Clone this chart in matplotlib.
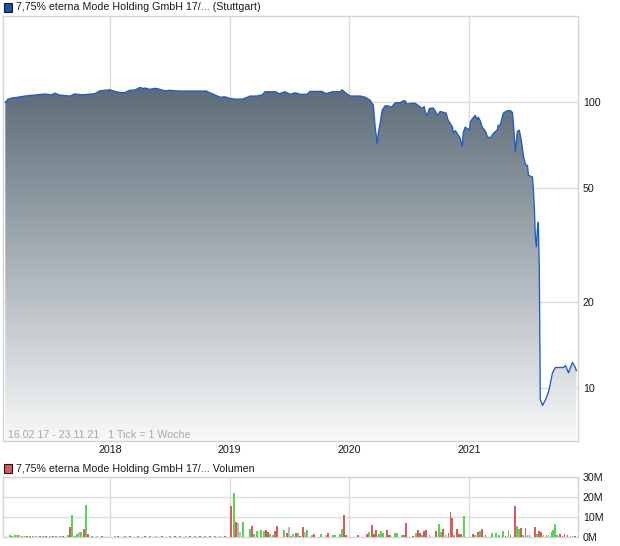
import matplotlib
matplotlib.use("Agg")
import matplotlib.pyplot as plt
import matplotlib.dates as mdates
from matplotlib.patches import Rectangle
from matplotlib.ticker import NullLocator, FixedLocator
import numpy as np
import pandas as pd

plt.rcParams['font.family'] = ['Liberation Sans', 'DejaVu Sans']

# ---------------- data ----------------
price_dates = [
    "2017-02-16", "2017-02-24", "2017-03-08", "2017-03-26", "2017-04-17", "2017-05-17",
    "2017-06-17", "2017-07-08", "2017-07-17", "2017-08-01", "2017-09-01", "2017-09-16",
    "2017-10-08", "2017-11-16", "2017-12-01", "2018-01-01", "2018-01-16", "2018-02-01",
    "2018-02-16", "2018-03-03", "2018-03-18", "2018-04-03", "2018-04-12", "2018-04-18",
    "2018-05-03", "2018-05-18", "2018-05-27", "2018-06-18", "2018-07-03", "2018-07-18",
    "2018-08-03", "2018-10-03", "2018-10-21", "2018-11-02", "2018-11-17", "2018-12-03",
    "2018-12-18", "2019-01-02", "2019-01-17", "2019-02-08", "2019-02-20", "2019-03-04",
    "2019-03-26", "2019-04-10", "2019-04-19", "2019-05-20", "2019-06-01", "2019-06-19",
    "2019-07-04", "2019-07-20", "2019-08-04", "2019-08-25", "2019-09-03", "2019-10-10",
    "2019-10-22", "2019-11-10", "2019-12-04", "2019-12-10", "2019-12-19", "2020-01-03",
    "2020-02-03", "2020-02-18", "2020-03-04", "2020-03-14", "2020-03-20", "2020-03-26",
    "2020-03-29", "2020-04-04", "2020-04-10", "2020-04-19", "2020-04-28", "2020-05-08",
    "2020-05-20", "2020-06-04", "2020-06-13", "2020-06-19", "2020-06-25", "2020-07-05",
    "2020-07-20", "2020-07-29", "2020-08-10", "2020-08-16", "2020-08-19", "2020-08-25",
    "2020-09-01", "2020-09-13", "2020-09-19", "2020-09-25", "2020-10-04", "2020-10-22",
    "2020-10-28", "2020-11-10", "2020-11-13", "2020-11-19", "2020-11-28", "2020-12-04",
    "2020-12-10", "2020-12-13", "2020-12-19", "2021-01-01", "2021-01-04", "2021-01-13",
    "2021-01-19", "2021-01-25", "2021-01-28", "2021-02-03", "2021-02-09", "2021-02-19",
    "2021-02-25", "2021-03-06", "2021-03-15", "2021-03-27", "2021-03-30", "2021-04-05",
    "2021-04-14", "2021-04-27", "2021-05-06", "2021-05-12", "2021-05-15", "2021-05-21",
    "2021-05-27", "2021-06-02", "2021-06-08", "2021-06-15", "2021-06-21", "2021-06-27",
    "2021-06-30", "2021-07-12", "2021-07-15", "2021-07-18", "2021-07-21", "2021-07-24",
    "2021-07-27", "2021-07-30", "2021-08-02", "2021-08-05", "2021-08-12", "2021-08-21",
    "2021-08-30", "2021-09-05", "2021-09-11", "2021-09-20", "2021-10-15", "2021-10-21",
    "2021-10-30", "2021-11-11", "2021-11-20", "2021-11-23",
]
price_values = [
    99.8, 102.4, 103.3, 104.0, 105.0, 105.8,
    106.7, 106.0, 107.5, 105.8, 105.0, 106.8,
    106.0, 107.0, 109.5, 110.4, 109.0, 108.0,
    108.0, 110.0, 110.2, 112.6, 111.5, 112.0,
    110.8, 111.7, 111.3, 109.5, 110.0, 109.5,
    109.3, 109.3, 109.3, 107.8, 106.0, 104.0,
    104.3, 103.0, 102.4, 102.4, 103.5, 105.0,
    105.0, 106.0, 108.7, 108.7, 107.0, 108.7,
    106.5, 107.8, 106.5, 106.5, 109.0, 109.0,
    107.0, 108.7, 108.7, 110.4, 108.0, 105.0,
    105.0, 104.0, 101.6, 97.6, 81.0, 71.3,
    78.0, 84.5, 93.8, 97.0, 97.0, 96.0,
    99.5, 99.5, 101.0, 101.0, 98.3, 99.0,
    99.0, 97.3, 95.0, 96.5, 92.5, 90.0,
    95.0, 95.3, 93.0, 90.0, 92.7, 91.5,
    86.5, 82.0, 78.0, 79.5, 76.7, 74.8,
    69.8, 78.0, 81.8, 79.8, 85.4, 88.4,
    89.8, 87.0, 88.5, 86.0, 81.8, 79.0,
    75.6, 75.0, 77.7, 80.0, 83.0, 83.0,
    91.5, 93.3, 93.3, 92.0, 84.5, 67.0,
    79.0, 79.8, 73.7, 64.4, 60.5, 60.0,
    55.5, 54.7, 49.3, 42.6, 33.8, 31.2,
    35.7, 38.0, 26.6, 9.1, 8.7, 9.1,
    9.7, 10.4, 11.3, 11.8, 11.8, 12.0,
    11.3, 12.3, 11.8, 11.5,
]

# volume in millions, direction: r = down, g = up, n = unchanged
vol_dates = [
    "2017-03-02", "2017-03-08", "2017-03-17", "2017-03-23", "2017-03-29", "2017-04-08",
    "2017-04-17", "2017-04-23", "2017-05-02", "2017-05-11", "2017-05-20", "2017-06-01",
    "2017-06-11", "2017-06-20", "2017-07-02", "2017-07-11", "2017-07-20", "2017-08-01",
    "2017-08-11", "2017-08-26", "2017-09-01", "2017-09-07", "2017-09-16", "2017-09-22",
    "2017-09-28", "2017-10-04", "2017-10-14", "2017-10-20", "2017-10-26", "2017-11-07",
    "2017-11-22", "2017-12-08", "2018-01-16", "2018-01-25", "2018-02-16", "2018-03-03",
    "2018-03-27", "2018-04-18", "2018-05-03", "2018-05-21", "2018-06-09", "2018-07-03",
    "2018-07-18", "2018-08-03", "2018-08-21", "2018-09-02", "2018-09-17", "2018-10-03",
    "2018-10-18", "2018-11-02", "2018-11-17", "2018-12-03", "2018-12-18",
    "2019-01-05", "2019-01-14", "2019-01-21", "2019-01-27", "2019-02-02", "2019-02-11",
    "2019-03-04", "2019-03-10", "2019-03-16", "2019-03-26", "2019-04-07", "2019-04-16",
    "2019-04-22", "2019-04-28", "2019-05-04", "2019-05-13", "2019-05-20", "2019-05-26",
    "2019-06-16", "2019-06-25", "2019-07-01", "2019-07-07", "2019-07-14", "2019-07-23",
    "2019-07-29", "2019-08-04", "2019-08-13", "2019-08-19", "2019-08-25", "2019-09-10",
    "2019-09-16", "2019-10-07", "2019-10-22", "2019-10-28", "2019-11-13", "2019-11-19",
    "2019-12-04", "2019-12-10", "2019-12-16", "2019-12-22",
    "2020-01-28", "2020-02-24", "2020-03-01", "2020-03-11", "2020-03-17", "2020-03-23",
    "2020-04-01", "2020-04-07", "2020-04-13", "2020-04-25", "2020-05-01", "2020-05-05",
    "2020-05-20", "2020-05-26", "2020-06-10", "2020-06-16", "2020-06-22", "2020-07-14",
    "2020-07-23", "2020-07-29", "2020-08-04", "2020-08-10", "2020-08-16", "2020-08-22",
    "2020-09-01", "2020-09-22", "2020-10-01", "2020-10-07", "2020-10-13", "2020-10-22",
    "2020-10-29", "2020-11-04", "2020-11-10", "2020-11-16", "2020-11-25", "2020-12-01",
    "2020-12-07", "2020-12-16",
    "2021-01-13", "2021-01-19", "2021-01-28", "2021-02-03", "2021-02-09", "2021-02-19",
    "2021-03-12", "2021-03-24", "2021-04-02", "2021-04-14", "2021-04-21", "2021-04-30",
    "2021-05-06", "2021-05-21", "2021-05-27", "2021-06-02", "2021-06-08", "2021-06-14",
    "2021-06-21", "2021-06-27", "2021-07-03", "2021-07-21", "2021-07-27", "2021-08-02",
    "2021-08-08", "2021-08-15", "2021-08-24", "2021-08-30", "2021-09-08", "2021-09-14",
    "2021-09-20", "2021-09-26", "2021-10-05", "2021-10-12", "2021-10-18", "2021-10-27",
    "2021-11-05", "2021-11-11", "2021-11-20",
]
vol_values = [
    0.8, 0.5, 0.8, 0.8, 0.8, 0.3,
    0.3, 0.3, 0.3, 0.3, 0.3, 0.3,
    0.3, 0.3, 0.3, 0.3, 0.3, 0.3,
    0.3, 0.8, 4.9, 11.0, 0.3, 1.7,
    2.4, 2.4, 3.9, 16.0, 1.35, 0.3,
    0.3, 0.3, 0.3, 0.3, 0.3, 0.3,
    0.3, 0.3, 0.3, 0.3, 0.3, 0.3,
    0.3, 0.3, 0.3, 0.3, 0.3, 0.3,
    0.3, 0.3, 0.3, 0.3, 0.3,
    15.6, 22.0, 7.4, 7.0, 2.4, 7.4,
    3.9, 5.4, 1.3, 2.9, 3.4, 2.9,
    3.4, 2.4, 1.35, 0.8, 2.9, 5.4,
    3.4, 1.9, 4.9, 0.5, 1.35, 1.9,
    1.9, 0.4, 4.9, 2.4, 3.4, 0.8,
    1.35, 1.35, 0.8, 1.9, 0.8, 0.8,
    1.35, 3.9, 11.0, 0.8,
    0.8, 1.35, 2.4, 5.9, 1.35, 3.4,
    1.35, 2.9, 1.9, 3.4, 0.8, 0.8,
    1.9, 1.9, 0.8, 0.8, 7.0, 0.3,
    1.9, 3.4, 1.9, 0.8, 2.9, 3.4,
    0.8, 2.9, 6.4, 2.4, 3.9, 0.8,
    1.9, 12.5, 9.5, 0.8, 3.9, 1.35,
    1.35, 10.5,
    1.35, 0.8, 2.4, 2.9, 3.9, 0.8,
    1.9, 1.9, 0.8, 2.9, 0.3, 3.4,
    0.8, 15.6, 5.4, 3.9, 4.4, 0.8,
    4.4, 0.8, 0.8, 4.9, 1.35, 2.9,
    2.4, 0.8, 0.8, 0.8, 2.4, 3.4,
    6.4, 0.8, 1.35, 0.4, 1.35, 0.8,
    0.3, 0.3, 0.3,
]
vol_dir = [
    "g", "g", "g", "n", "g", "g",
    "n", "r", "g", "g", "n", "r",
    "g", "r", "n", "r", "g", "g",
    "r", "g", "r", "g", "g", "g",
    "n", "g", "r", "g", "r", "g",
    "n", "r", "n", "r", "g", "r",
    "g", "r", "g", "n", "r", "g",
    "r", "g", "n", "r", "g", "r",
    "g", "r", "g", "n", "r",
    "r", "g", "r", "n", "n", "g",
    "g", "r", "g", "g", "g", "g",
    "r", "r", "g", "g", "r", "r",
    "g", "r", "n", "g", "g", "r",
    "g", "r", "r", "n", "g", "g",
    "r", "g", "n", "r", "g", "g",
    "g", "g", "r", "r",
    "r", "r", "g", "r", "r", "r",
    "g", "g", "g", "r", "r", "r",
    "g", "g", "g", "r", "r", "r",
    "g", "r", "r", "g", "r", "r",
    "g", "r", "g", "g", "r", "n",
    "r", "r", "r", "g", "r", "r",
    "r", "g",
    "r", "g", "r", "g", "r", "r",
    "g", "g", "g", "g", "r", "g",
    "r", "r", "g", "g", "r", "g",
    "r", "g", "r", "r", "g", "r",
    "r", "g", "g", "g", "g", "g",
    "g", "g", "r", "r", "r", "r",
    "n", "g", "r",
]

y_ticks = [10, 20, 50, 100]
v_ticks = [0, 10, 20, 30]
v_tick_labels = ["0M", "10M", "20M", "30M"]
year_ticks = ["2018-01-01", "2019-01-01", "2020-01-01", "2021-01-01"]
year_labels = ["2018", "2019", "2020", "2021"]

title_price = "7,75% eterna Mode Holding GmbH 17/... (Stuttgart)"
title_vol = "7,75% eterna Mode Holding GmbH 17/... Volumen"
range_note = "16.02.17 - 23.11.21   1 Tick = 1 Woche"

# ---------------- figure ----------------
W, H = 620, 546
fig = plt.figure(figsize=(W / 100, H / 100), dpi=100)
fig.patch.set_facecolor("white")

ax = fig.add_axes([3 / W, 1 - 441 / H, 575 / W, 425 / H])
axv = fig.add_axes([3 / W, 1 - 537 / H, 575 / W, 60 / H])

grid_c = "#dcdcdc"
spine_c = "#d4d4d4"
text_c = "#1a1a1a"
fs = 7.7

px = mdates.date2num(pd.to_datetime(price_dates))
xlim = (mdates.date2num(pd.Timestamp("2017-02-09")), mdates.date2num(pd.Timestamp("2021-11-28")))
ylim = (6.53, 200)

ax.set_yscale("log")
ax.set_xlim(*xlim)
ax.set_ylim(*ylim)

# gradient fill clipped to the area under the price line
poly = ax.fill_between(px, price_values, 1, facecolor="none", edgecolor="none", zorder=1)
n = 400
f = np.linspace(1, 0, n)  # axes fraction, top row first
top_f = 0.83
t = np.clip((top_f - f) / top_f, 0, 1)
c_top = np.array([0x5c, 0x6c, 0x78]) / 255
c_bot = np.array([0xf8, 0xf9, 0xf9]) / 255
grad = (c_top[None, :] * (1 - t[:, None]) + c_bot[None, :] * t[:, None])
grad = np.repeat(grad[:, None, :], 2, axis=1)
im = ax.imshow(grad, extent=[0, 1, 0, 1], transform=ax.transAxes, aspect="auto",
               interpolation="bilinear", zorder=1)
im.set_clip_path(poly.get_paths()[0], transform=ax.transData)
ax.plot(px, price_values, color="#1f5bc8", lw=0.95, zorder=3)

ax.set_xlim(*xlim)
ax.set_ylim(*ylim)
ax.set_aspect("auto")

ax.yaxis.tick_right()
ax.yaxis.set_major_locator(FixedLocator(y_ticks))
ax.yaxis.set_minor_locator(NullLocator())
ax.set_yticklabels([str(v) for v in y_ticks])
yt = mdates.date2num(pd.to_datetime(year_ticks))
ax.set_xticks(yt)
ax.set_xticklabels(year_labels)
ax.xaxis.set_minor_locator(NullLocator())
ax.tick_params(axis="y", length=0, pad=3.5, labelsize=fs, labelcolor=text_c)
ax.tick_params(axis="x", length=0, pad=3, labelsize=fs, labelcolor=text_c)
ax.grid(True, color=grid_c, lw=1.0)
ax.set_axisbelow(True)
for s in ax.spines.values():
    s.set_color(spine_c)
    s.set_linewidth(1.0)

ax.text(5 / 575, 3 / 425, range_note, transform=ax.transAxes, fontsize=fs,
        color="#a8a8a8", va="baseline", ha="left", zorder=4)

# ---------------- volume ----------------
cmap_dir = {"r": "#e05858", "g": "#55d455", "n": "#b8b8b8"}
vx = mdates.date2num(pd.to_datetime(vol_dates))
axv.bar(vx, vol_values, width=5.5, color=[cmap_dir[d] for d in vol_dir], zorder=3,
        linewidth=0, antialiased=False)
axv.set_xlim(*xlim)
axv.set_ylim(0, 30)
axv.yaxis.tick_right()
axv.set_yticks(v_ticks)
axv.set_yticklabels(v_tick_labels)
axv.set_xticks(yt)
axv.set_xticklabels([])
axv.tick_params(axis="y", length=0, pad=3.5, labelsize=fs, labelcolor=text_c)
axv.tick_params(axis="x", length=0)
axv.grid(True, color=grid_c, lw=1.0)
axv.set_axisbelow(True)
for s in axv.spines.values():
    s.set_color(spine_c)
    s.set_linewidth(1.0)

# ---------------- titles ----------------
fig.patches.append(Rectangle((4 / W, 1 - 12 / H), 8 / W, 9 / H, transform=fig.transFigure,
                             facecolor="#1f4fa8", edgecolor="#1a1a1a", lw=0.8))
fig.text(16 / W, 1 - 7.5 / H, title_price, fontsize=fs, color=text_c, va="center", ha="left")
fig.patches.append(Rectangle((4 / W, 1 - 473 / H), 8 / W, 9 / H, transform=fig.transFigure,
                             facecolor="#d95a5a", edgecolor="#1a1a1a", lw=0.8))
fig.text(16 / W, 1 - 468.5 / H, title_vol, fontsize=fs, color=text_c, va="center", ha="left")

fig.savefig("out.png", dpi=100)
